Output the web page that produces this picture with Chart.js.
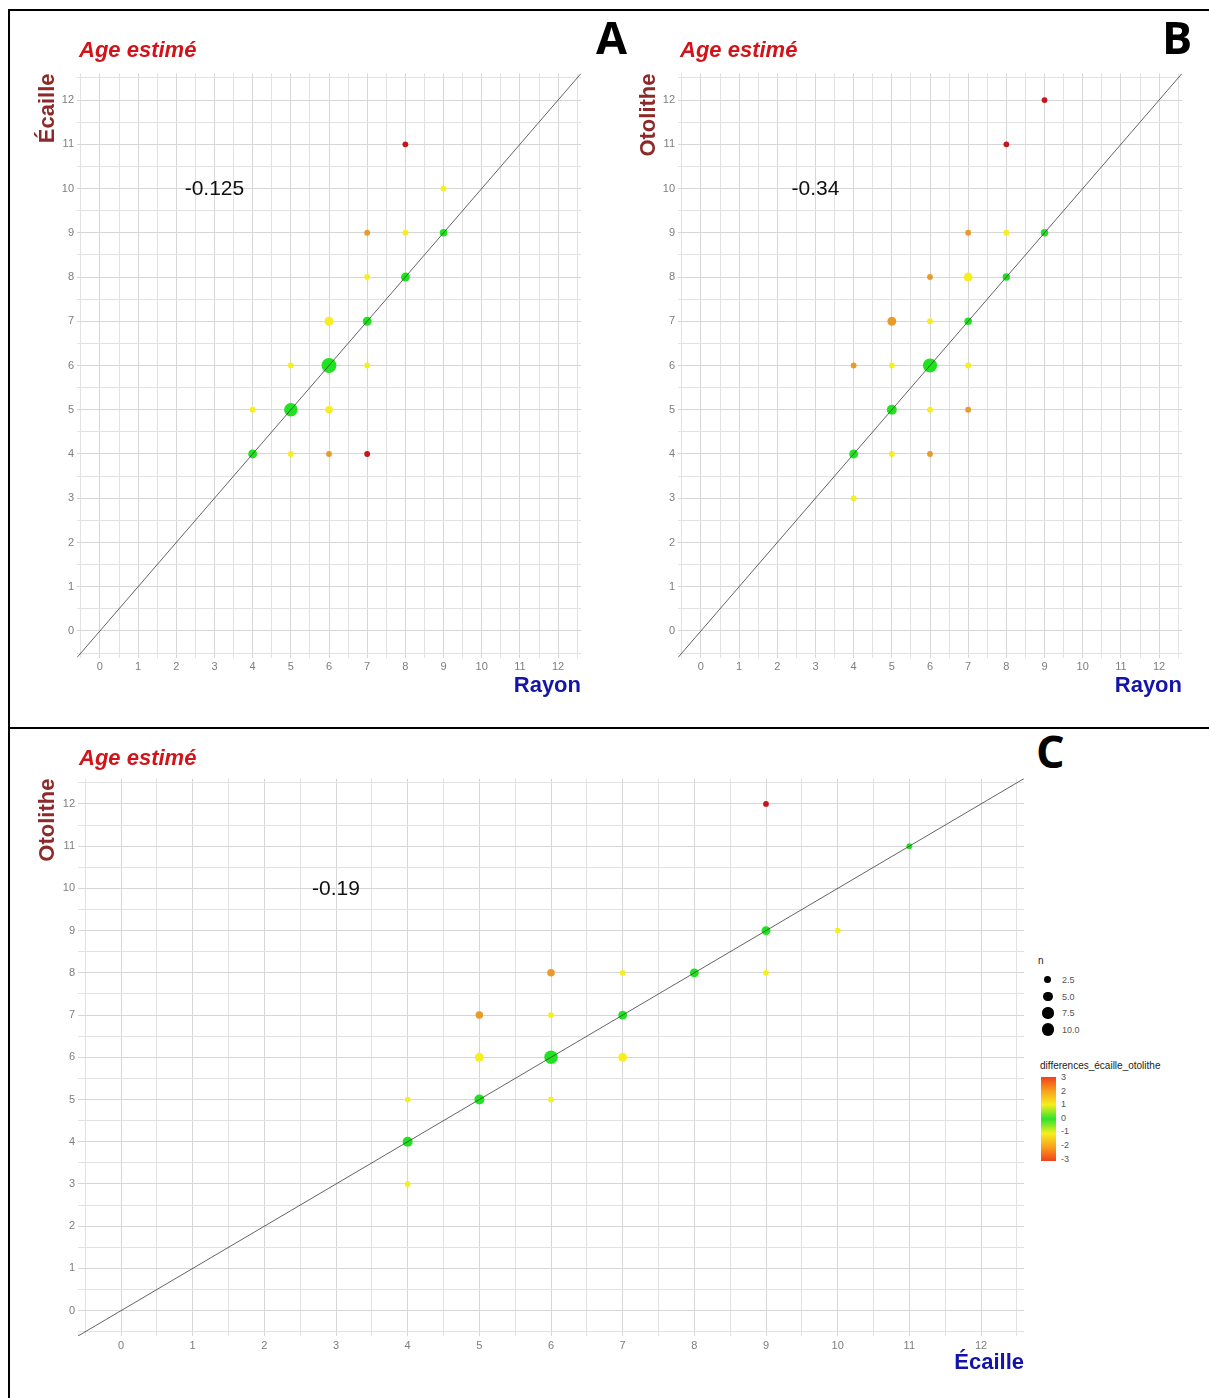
<!DOCTYPE html>
<html lang="fr">
<head>
<meta charset="utf-8">
<title>Age estimé - comparaison des structures</title>
<script src="https://cdn.jsdelivr.net/npm/chart.js@4.4.1/dist/chart.umd.min.js"></script>
<style>
  html, body { margin: 0; padding: 0; background: #fff; }
  body { width: 1209px; height: 1398px; position: relative; overflow: hidden;
         font-family: "Liberation Sans", Arial, sans-serif; }
  canvas { position: absolute; }
  .trait { position: absolute; background: #000; }
  .titre-age { position: absolute; color: #d2141a; font-weight: bold; font-style: italic; font-size: 22px; }
  .lettre { position: absolute; font-family: "Open Sans", "DejaVu Sans", sans-serif; font-weight: 700; font-size: 45px; color: #000; line-height: 1; }
  #legende { position: absolute; left: 1038px; top: 955px; width: 170px; font-size: 9px; color: #555; }
  #legende .tit { color: #222; font-size: 10px; }
  #legende .ligne { position: relative; height: 16.5px; }
  #legende .point { position: absolute; background: #000; border-radius: 50%; }
  #legende .txt { position: absolute; left: 24px; top: 3px; }
  #barre { position: absolute; left: 3px; top: 122px; width: 15px; height: 84px; }
  .graduation { position: absolute; left: 23px; }
</style>
</head>
<body>
<div class="trait" style="left:8px;top:9px;width:1201px;height:2px"></div>
<div class="trait" style="left:8px;top:9px;width:2px;height:1389px"></div>
<div class="trait" style="left:8px;top:727px;width:1201px;height:2px"></div>

<canvas id="chartA" width="561" height="683" style="left:30px;top:20px"></canvas>
<canvas id="chartB" width="561" height="683" style="left:631px;top:20px"></canvas>
<canvas id="chartC" width="1004" height="640" style="left:30px;top:740px"></canvas>

<div class="titre-age" style="left:79px;top:37px">Age estimé</div>
<div class="titre-age" style="left:680px;top:37px">Age estimé</div>
<div class="titre-age" style="left:79px;top:745px">Age estimé</div>

<div class="lettre" style="left:596px;top:14px">A</div>
<div class="lettre" style="left:1162px;top:14px">B</div>
<div class="lettre" style="left:1036px;top:728px">C</div>

<div id="legende"></div>

<script>
// Panneau A : Rayon (x) vs Écaille (y)
const rayonA   = [8, 9, 7, 8, 9, 7, 8, 6, 7, 5, 6, 7, 4, 5, 6, 4, 5, 6, 7];
const ecailleA = [11, 10, 9, 9, 9, 8, 8, 7, 7, 6, 6, 6, 5, 5, 5, 4, 4, 4, 4];
const nA       = [1, 1, 1, 1, 2, 1, 3, 3, 3, 1, 10, 1, 1, 8, 2, 3, 1, 1, 1];

// Panneau B : Rayon (x) vs Otolithe (y)
const rayonB    = [9, 8, 7, 8, 9, 6, 7, 8, 5, 6, 7, 4, 5, 6, 7, 5, 6, 7, 4, 5, 6, 4];
const otolitheB = [12, 11, 9, 9, 9, 8, 8, 8, 7, 7, 7, 6, 6, 6, 6, 5, 5, 5, 4, 4, 4, 3];
const nB        = [1, 1, 1, 1, 2, 1, 3, 2, 3, 1, 2, 1, 1, 9, 1, 4, 1, 1, 3, 1, 1, 1];

// Panneau C : Écaille (x) vs Otolithe (y)
const ecailleC  = [9, 11, 9, 10, 6, 7, 8, 9, 5, 6, 7, 5, 6, 7, 4, 5, 6, 4, 4];
const otolitheC = [12, 11, 9, 9, 8, 8, 8, 8, 7, 7, 7, 6, 6, 6, 5, 5, 5, 4, 3];
const nC        = [1, 1, 3, 1, 2, 1, 3, 1, 2, 1, 3, 3, 8, 3, 1, 4, 1, 4, 1];

// Valeurs affichées dans chaque panneau
const correlations = ['-0.125', '-0.34', '-0.19'];

// Axes
const axeMin = -0.6;
const axeMax = 12.6;
const grille = [-0.5, 0, 0.5, 1, 1.5, 2, 2.5, 3, 3.5, 4, 4.5, 5, 5.5, 6, 6.5, 7, 7.5, 8, 8.5, 9, 9.5, 10, 10.5, 11, 11.5, 12, 12.5];

// Légendes
const tailleLegende = [2.5, 5.0, 7.5, 10.0];
const ecartLegende = [3, 2, 1, 0, -1, -2, -3];

const couleursEcart = ['#1fe31f', '#f6ee1f', '#e99a2b', '#c4161b'];

function rayonPoint(n) {
    return 0.8 + 2.1 * Math.sqrt(n);
}

function couleurPoint(x, y) {
    const d = Math.min(3, Math.abs(y - x));
    return couleursEcart[d];
}

// Texte de la corrélation posé sur le graphique
const etiquetteCorr = {
    id: 'etiquetteCorr',
    afterDatasetsDraw(chart, args, opts) {
        const { ctx, scales: { x, y } } = chart;
        ctx.save();
        ctx.font = '21px "Liberation Sans", Arial, sans-serif';
        ctx.fillStyle = '#111';
        ctx.textAlign = 'center';
        ctx.textBaseline = 'middle';
        ctx.fillText(opts.text, x.getPixelForValue(opts.x), y.getPixelForValue(opts.y) + 1);
        ctx.restore();
    }
};

function axe(titre, couleurTitre, taille, estX) {
    return {
        type: 'linear',
        min: axeMin,
        max: axeMax,
        afterBuildTicks: (s) => { s.ticks = grille.map(v => ({ value: v })); },
        afterFit: (s) => {
            if (estX) s.height = taille; else s.width = taille;
        },
        border: { display: false },
        grid: {
            drawTicks: false,
            color: (c) => Number.isInteger(c.tick.value) ? '#d6d6d6' : '#e2e2e2',
            lineWidth: 1
        },
        ticks: {
            autoSkip: false,
            maxRotation: 0,
            padding: 3,
            color: '#7d7d7d',
            font: { size: 11, family: '"Liberation Sans", Arial, sans-serif' },
            callback: (v) => Number.isInteger(v) ? String(v) : ''
        },
        title: {
            display: true,
            text: titre,
            align: 'end',
            color: couleurTitre,
            font: { size: 22, weight: 'bold', family: '"Liberation Sans", Arial, sans-serif' },
            padding: estX ? { top: 0, bottom: 4 } : { top: 5, bottom: 0 }
        }
    };
}

function creerGraphique(id, xs, ys, ns, titreX, titreY, corr, config) {
    const points = xs.map((x, i) => ({ x: x, y: ys[i] }));
    const rayons = ns.map(rayonPoint);
    const couleurs = xs.map((x, i) => couleurPoint(x, ys[i]));

    return new Chart(document.getElementById(id), {
        type: 'scatter',
        data: {
            datasets: [
                {
                    type: 'line',
                    data: [{ x: axeMin, y: axeMin }, { x: axeMax, y: axeMax }],
                    showLine: true,
                    borderColor: '#3c3c3c',
                    borderWidth: 0.8,
                    pointRadius: 0,
                    fill: false
                },
                {
                    data: points,
                    pointRadius: rayons,
                    pointHoverRadius: rayons,
                    pointBackgroundColor: couleurs,
                    pointBorderWidth: 0
                }
            ]
        },
        options: {
            responsive: false,
            animation: false,
            devicePixelRatio: 1,
            layout: { padding: { top: config.haut, right: 10, left: 0, bottom: 0 } },
            plugins: {
                legend: { display: false },
                tooltip: { enabled: false },
                etiquetteCorr: { text: corr, x: 3, y: 10 }
            },
            scales: {
                x: axe(titreX, '#1414a8', config.hautX, true),
                y: axe(titreY, '#8c2a2a', config.largY, false)
            }
        },
        plugins: [etiquetteCorr]
    });
}

creerGraphique('chartA', rayonA, ecailleA, nA, 'Rayon', 'Écaille', correlations[0],
    { haut: 53.5, hautX: 45.5, largY: 47 });
creerGraphique('chartB', rayonB, otolitheB, nB, 'Rayon', 'Otolithe', correlations[1],
    { haut: 53.5, hautX: 45.5, largY: 47 });
creerGraphique('chartC', ecailleC, otolitheC, nC, 'Écaille', 'Otolithe', correlations[2],
    { haut: 38.6, hautX: 44, largY: 48 });

// Légende du panneau C (taille n et écart de couleur)
const legende = document.getElementById('legende');
let html = '<div class="tit">n</div><div style="height:6px"></div>';
tailleLegende.forEach(t => {
    const r = rayonPoint(t) * 0.85;
    html += '<div class="ligne"><span class="point" style="left:' + (10 - r) + 'px;top:' + (8 - r) +
        'px;width:' + (2 * r) + 'px;height:' + (2 * r) + 'px"></span><span class="txt">' + t.toFixed(1) + '</span></div>';
});
html += '<div class="tit" style="position:absolute;top:105px;left:2px">differences_écaille_otolithe</div>';
html += '<div id="barre" style="background:linear-gradient(to bottom,#f2401a 0%,#f9a21c 17%,#f7ee1c 33%,#2ee32e 50%,#f7ee1c 67%,#f9a21c 83%,#f2401a 100%)"></div>';
ecartLegende.forEach((e, i) => {
    html += '<span class="graduation" style="top:' + (117 + i * 13.6) + 'px">' + e + '</span>';
});
legende.innerHTML = html;
</script>
</body>
</html>
